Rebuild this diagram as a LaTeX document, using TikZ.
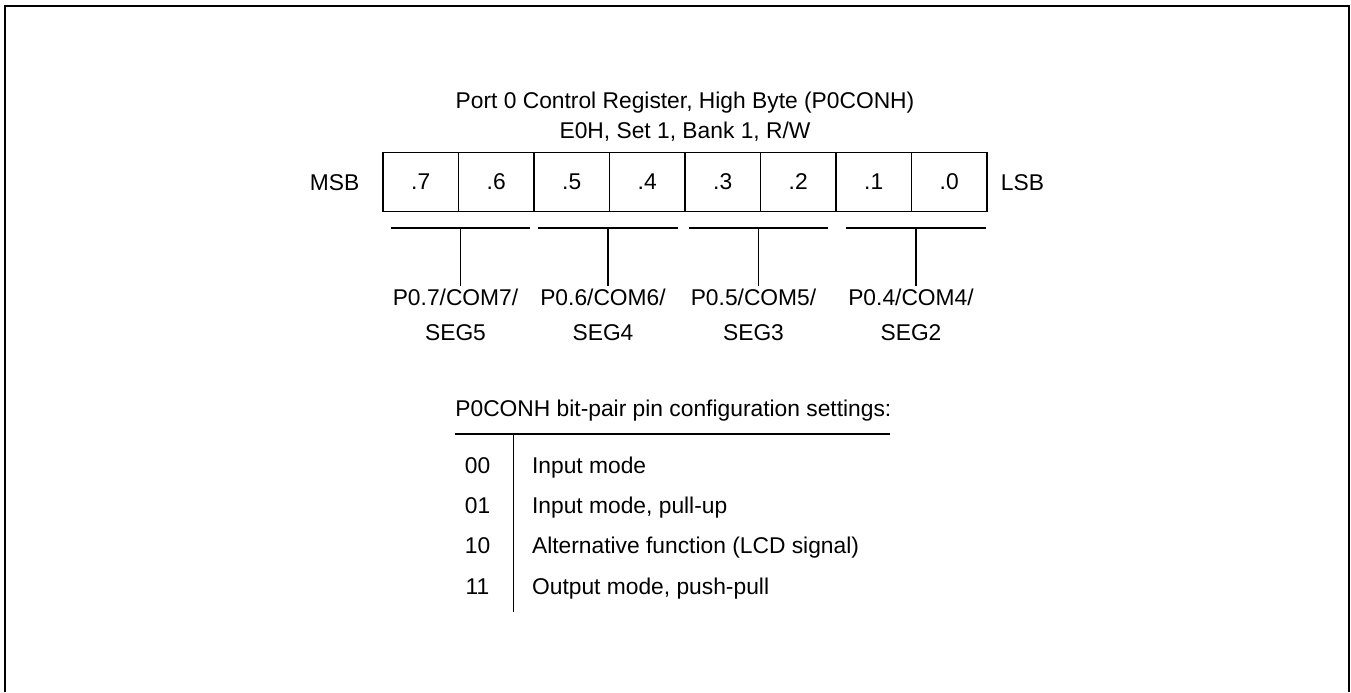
\documentclass[tikz,border=0pt]{standalone}
\usepackage{fontspec}
\setmainfont{Liberation Sans}
\usetikzlibrary{positioning,calc}
\tikzset{
  regcell/.style={draw,line width=0.8pt,minimum width=37.75pt,minimum height=29.4pt,inner sep=0pt,outer sep=0pt},
  regtxt/.style={inner sep=0pt,anchor=base},
  pinlbl/.style={align=center,inner xsep=0pt,inner ysep=1.2pt,anchor=north,font=\fontsize{11.4}{17.6}\selectfont},
  rline/.style={line width=0.8pt},
  frameline/.style={line width=1.1pt}
}

\begin{document}
\begin{tikzpicture}[x=0.5pt,y=-0.5pt,font=\fontsize{11.4}{14}\selectfont]
  \useasboundingbox (0,0) rectangle (1351,692);
  % frame, open at the bottom
  \draw[frameline] (5,692) -- (5,6) -- (1349,6) -- (1349,692);
  % title
  \node[regtxt] (title) at (685,108) {Port 0 Control Register, High Byte (P0CONH)};
  \node[regtxt] (addr) at (685,138) {E0H, Set 1, Bank 1, R/W};
  % register bits
  \foreach \i in {0,...,7} {
    \pgfmathtruncatemacro{\b}{7-\i}
    \node[regcell] (cell\b) at (420.75+75.5*\i,182) {.\b};
  }
  \node[regtxt] (msb) at (334.7,190) {MSB};
  \node[regtxt] (lsb) at (1022.5,190) {LSB};
  % bit pairs
  \foreach \n/\xl/\xr/\txt in {7/391/530/{P0.7/COM7/\\SEG5},
                               6/538/678/{P0.6/COM6/\\SEG4},
                               5/689/828/{P0.5/COM5/\\SEG3},
                               4/846/986/{P0.4/COM4/\\SEG2}} {
    \coordinate (bl\n) at (\xl,227.7);
    \coordinate (br\n) at (\xr,227.7);
    \coordinate (bm\n) at ($(bl\n)!0.5!(br\n)$);
    \node[pinlbl] (pin\n) at ([xshift=-2.5pt,yshift=-29pt]bm\n) {\txt};
    \draw[rline] (bl\n) -- (br\n);
    \draw[rline] (bm\n) -- (bm\n |- pin\n.north);
  }
  % settings table
  \node[regtxt,anchor=base west] (tblhead) at (455,416) {P0CONH bit-pair pin configuration settings:};
  \coordinate (hl) at (455,434);
  \coordinate (hr) at (890,434);
  \coordinate (vt) at (513.3,434);
  \coordinate (vb) at (513.3,612);
  \draw[rline] (hl) -- (hr);
  \draw[rline] (vt) -- (vb);
  \foreach \k/\y/\txt in {00/473.3/Input mode,
                          01/513.5/{Input mode, pull-up},
                          10/553.8/Alternative function (LCD signal),
                          11/594.1/{Output mode, push-pull}} {
    \node[regtxt] (code\k) at (477.5,\y) {\k};
    \node[regtxt,anchor=base west] (desc\k) at (531.7,\y) {\txt};
  }
\end{tikzpicture}
\end{document}
